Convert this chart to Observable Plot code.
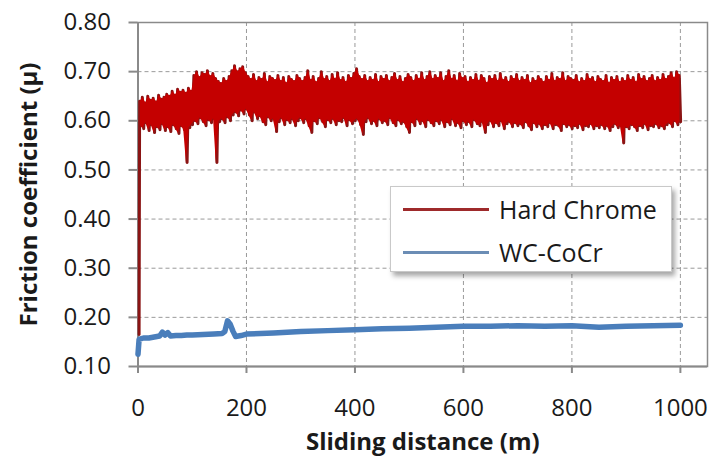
<!DOCTYPE html>
<html>
<head>
<meta charset="utf-8">
<script src="https://cdn.jsdelivr.net/npm/d3@7"></script>
<script src="https://cdn.jsdelivr.net/npm/@observablehq/plot@0.6"></script>
<style>
  html, body { margin: 0; padding: 0; background: #fff; }
  #chart { position: relative; width: 714px; height: 462px; font-family: "Open Sans", sans-serif; }
  #legend {
    position: absolute; left: 390px; top: 186px; width: 282px; height: 86px;
    box-sizing: border-box; background: #fff; border: 1px solid #c9c9c9;
    box-shadow: 3px 4px 5px rgba(0,0,0,0.35);
  }
  .item { position: absolute; left: 12px; height: 34px; display: flex; align-items: center; }
  .swatch { width: 86px; height: 3px; margin-right: 10px; }
  .item span { font-size: 25px; color: #1a1a1a; line-height: 1; }
</style>
</head>
<body>
<div id="chart"></div>
<script>
// Series names and colours
const seriesNames = ["Hard Chrome", "WC-CoCr"];
const seriesColors = ["#c40000", "#4a7ebb"];
const legendColors = ["#9e2a2b", "#6b8db5"];

// Axis ticks
const xTicks = [0, 200, 400, 600, 800, 1000];
const yTicks = [0.10, 0.20, 0.30, 0.40, 0.50, 0.60, 0.70, 0.80];

// Hard Chrome: run-in reading, then upper and lower excursions every 5 m
const hcStep = 5;
const hcStartDist = 2;
const hcStart = 0.165;
const hcHigh = [
  0.640,0.648,0.636,0.650,0.642,0.646,0.638,0.652,0.644,0.648,
  0.654,0.650,0.660,0.652,0.664,0.658,0.662,0.656,0.666,0.660,
  0.692,0.700,0.688,0.698,0.694,0.702,0.690,0.696,0.686,0.680,
  0.676,0.686,0.680,0.690,0.702,0.712,0.700,0.706,0.710,0.698,
  0.690,0.684,0.694,0.680,0.688,0.684,0.696,0.678,0.690,0.686,
  0.682,0.692,0.680,0.688,0.676,0.690,0.684,0.680,0.692,0.686,
  0.680,0.688,0.702,0.682,0.690,0.678,0.686,0.700,0.684,0.690,
  0.680,0.694,0.684,0.698,0.682,0.688,0.678,0.692,0.686,0.696,
  0.706,0.690,0.684,0.692,0.680,0.688,0.682,0.694,0.678,0.690,
  0.684,0.692,0.680,0.688,0.696,0.682,0.690,0.678,0.686,0.694,
  0.688,0.680,0.692,0.684,0.698,0.682,0.690,0.700,0.684,0.692,
  0.686,0.698,0.680,0.690,0.702,0.684,0.692,0.680,0.696,0.686,
  0.690,0.678,0.688,0.682,0.694,0.680,0.692,0.686,0.676,0.690,
  0.684,0.692,0.680,0.696,0.682,0.688,0.678,0.690,0.684,0.694,
  0.680,0.688,0.682,0.692,0.676,0.686,0.680,0.690,0.684,0.678,
  0.690,0.682,0.696,0.680,0.688,0.684,0.698,0.680,0.690,0.686,
  0.682,0.692,0.678,0.686,0.680,0.694,0.684,0.688,0.678,0.690,
  0.684,0.680,0.692,0.676,0.688,0.682,0.690,0.678,0.686,0.680,
  0.692,0.682,0.688,0.678,0.694,0.684,0.690,0.680,0.686,0.692,
  0.680,0.688,0.682,0.694,0.684,0.690,0.698,0.686,0.700,0.692
];
const hcLow = [
  0.590,0.584,0.596,0.580,0.592,0.576,0.588,0.582,0.594,0.580,
  0.588,0.578,0.592,0.584,0.574,0.590,0.582,0.515,0.586,0.592,
  0.600,0.594,0.606,0.598,0.590,0.602,0.596,0.604,0.515,0.598,
  0.604,0.596,0.608,0.600,0.612,0.618,0.610,0.622,0.614,0.624,
  0.612,0.600,0.618,0.604,0.610,0.598,0.592,0.608,0.600,0.604,
  0.578,0.598,0.606,0.592,0.602,0.596,0.604,0.590,0.600,0.606,
  0.596,0.604,0.590,0.576,0.600,0.594,0.606,0.598,0.588,0.602,
  0.596,0.604,0.592,0.600,0.598,0.606,0.590,0.602,0.594,0.600,
  0.604,0.592,0.572,0.598,0.606,0.594,0.600,0.590,0.604,0.596,
  0.600,0.592,0.606,0.596,0.590,0.602,0.594,0.598,0.588,0.576,
  0.598,0.590,0.604,0.594,0.600,0.588,0.602,0.596,0.590,0.600,
  0.594,0.602,0.588,0.598,0.592,0.604,0.590,0.596,0.586,0.600,
  0.592,0.598,0.588,0.602,0.594,0.590,0.598,0.576,0.592,0.600,
  0.588,0.596,0.590,0.600,0.584,0.594,0.598,0.588,0.596,0.590,
  0.594,0.586,0.598,0.590,0.582,0.596,0.588,0.594,0.584,0.592,
  0.588,0.596,0.584,0.592,0.590,0.580,0.594,0.588,0.592,0.584,
  0.590,0.586,0.594,0.582,0.590,0.588,0.594,0.584,0.590,0.586,
  0.592,0.584,0.590,0.580,0.588,0.594,0.586,0.590,0.555,0.588,
  0.584,0.592,0.588,0.580,0.590,0.586,0.594,0.582,0.590,0.588,
  0.594,0.586,0.590,0.584,0.592,0.596,0.588,0.600,0.592,0.598
];

// WC-CoCr: sliding distance (m) and friction coefficient
const wcDist = [0, 2, 10, 20, 30, 40, 45, 50, 55, 60, 70, 80, 90, 100, 120, 140, 155, 160, 165, 170, 175, 180, 190, 200,
  250, 300, 350, 400, 450, 500, 550, 600, 650, 700, 750, 800, 850, 900, 950, 1000];
const wcMu = [0.125, 0.155, 0.158, 0.158, 0.160, 0.162, 0.170, 0.164, 0.169, 0.162, 0.163, 0.163, 0.164, 0.164, 0.165, 0.166, 0.167, 0.171, 0.193, 0.186, 0.172, 0.161, 0.163, 0.166,
  0.168, 0.171, 0.173, 0.175, 0.177, 0.178, 0.180, 0.182, 0.182, 0.183, 0.182, 0.183, 0.180, 0.182, 0.183, 0.184];

// Build the tables for the marks: a zigzag trace plus the filled band it sweeps
const hardChrome = [{d: hcStartDist, mu: hcStart}];
hcHigh.forEach((v, k) => {
  hardChrome.push({d: k * hcStep + 3, mu: v});
  hardChrome.push({d: k * hcStep + 5.5, mu: hcLow[k]});
});
const hardChromeBand = hcHigh.map((v, k) => ({d: k * hcStep + 4.25, hi: v, lo: hcLow[k]}));
const wcCoCr = wcDist.map((d, i) => ({d, mu: wcMu[i]}));

const axisGray = "#8a8a8a";
const chart = Plot.plot({
  width: 714,
  height: 462,
  marginLeft: 137.5,
  marginRight: 7,
  marginTop: 22,
  marginBottom: 96,
  style: {fontFamily: "'Open Sans', sans-serif", background: "#fff", color: "#1a1a1a"},
  x: {domain: [0, 1050]},
  y: {domain: [0.10, 0.80]},
  marks: [
    Plot.gridY(yTicks.slice(1, -1), {stroke: "#9a9a9a", strokeOpacity: 1, strokeDasharray: "4,3"}),
    Plot.gridX(xTicks.slice(1), {stroke: "#9a9a9a", strokeOpacity: 1, strokeDasharray: "4,3"}),
    Plot.frame({stroke: axisGray, strokeWidth: 1.5}),
    Plot.ruleX([0], {stroke: axisGray, strokeWidth: 2}),
    Plot.ruleY([0.10], {stroke: axisGray, strokeWidth: 2}),
    Plot.axisY(yTicks, {
      tickSize: 9, tickPadding: 18, tickFormat: (d) => d.toFixed(2),
      stroke: axisGray, strokeWidth: 2, fontSize: 24, label: null
    }),
    Plot.axisX(xTicks, {
      tickSize: 7, tickPadding: 25, tickFormat: (d) => String(d),
      stroke: axisGray, strokeWidth: 2, fontSize: 24, label: null
    }),
    Plot.line(hardChrome, {x: "d", y: "mu", stroke: "#8a1414", strokeWidth: 3}),
    Plot.areaY(hardChromeBand, {x: "d", y1: "lo", y2: "hi", fill: seriesColors[0]}),
    Plot.line(wcCoCr, {x: "d", y: "mu", stroke: seriesColors[1], strokeWidth: 5.5}),
    Plot.text(["Friction coefficient (μ)"], {
      frameAnchor: "left", textAnchor: "middle", lineAnchor: "middle", rotate: -90, dx: -109,
      fontSize: 24, fontWeight: "bold", fill: "#1a1a1a"
    }),
    Plot.text(["Sliding distance (m)"], {
      frameAnchor: "bottom", lineAnchor: "middle", dy: 76,
      fontSize: 24, fontWeight: "bold", fill: "#1a1a1a"
    })
  ]
});

const root = document.getElementById("chart");
root.appendChild(chart);

// Legend box drawn over the plot area
const legend = document.createElement("div");
legend.id = "legend";
seriesNames.forEach((name, i) => {
  const item = document.createElement("div");
  item.className = "item";
  item.style.top = (5 + i * 43) + "px";
  const sw = document.createElement("div");
  sw.className = "swatch";
  sw.style.background = legendColors[i];
  const label = document.createElement("span");
  label.textContent = name;
  item.appendChild(sw);
  item.appendChild(label);
  legend.appendChild(item);
});
root.appendChild(legend);
</script>
</body>
</html>
